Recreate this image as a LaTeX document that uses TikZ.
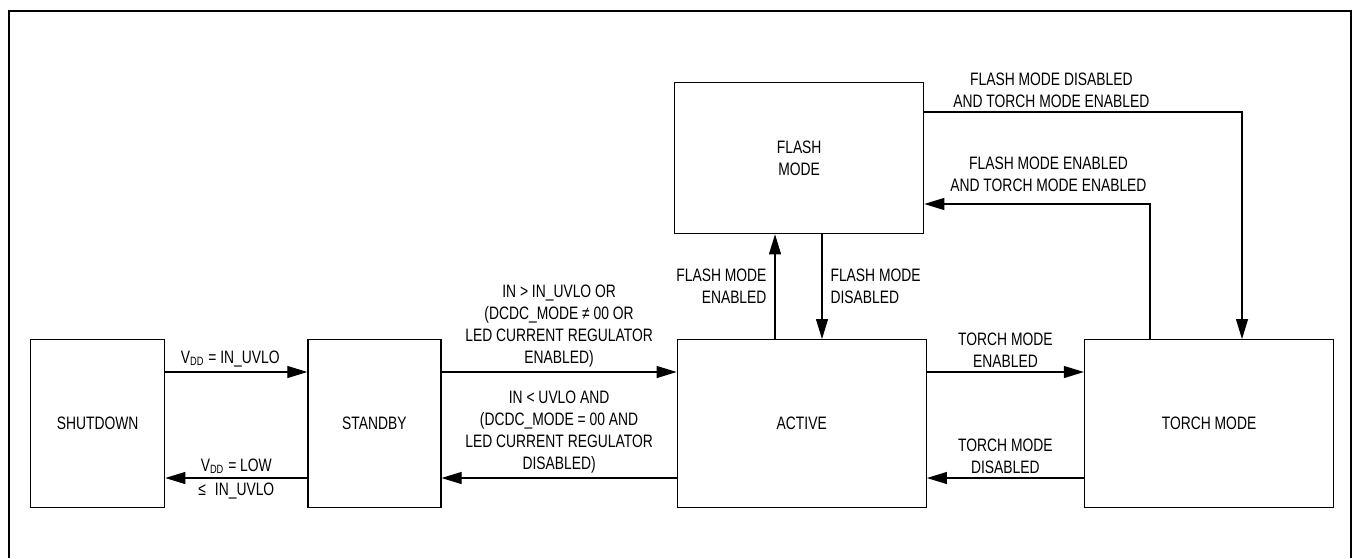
\documentclass[tikz,border=0pt]{standalone}
\usepackage{fontspec}
\setmainfont{Liberation Sans}[FakeStretch=0.77]
\usepackage{tikz}
\usetikzlibrary{positioning,arrows.meta}

\begin{document}
\begin{tikzpicture}[x=0.5pt, y=-0.5pt, every node/.style={font=\fontsize{9}{11}\selectfont, align=center, inner sep=2pt},
    state/.style={draw, line width=0.65pt, minimum width=124.5pt, minimum height=84pt},
    conn/.style={-{Triangle[length=10pt,width=6pt]}, line width=0.55pt}]
    \useasboundingbox (0,0) rectangle (1353,558);
    \draw[line width=1pt] (9,558) -- (9,11) -- (1351,11) -- (1351,558);
    \node[state, minimum width=67pt, anchor=north west] (shut) at (30,339) {SHUTDOWN};
    \node[state, minimum width=66.5pt, right=71pt of shut] (stby) {STANDBY};
    \node[state, right=117.5pt of stby] (act) {ACTIVE};
    \node[state, right=78.5pt of act] (torch) {TORCH MODE};
    \node[state, minimum height=75.5pt, anchor=north west] (flash) at (674,82) {FLASH\\MODE};
    \draw[conn] (shut.east |- 0,372) -- node[above, xshift=-3pt] {V\textsubscript{DD} = IN\_UVLO} (stby.west |- 0,372);
    \draw[conn] (stby.west |- 0,478) -- node[above] {V\textsubscript{DD} = LOW} node[below] {≤\enspace IN\_UVLO} (shut.east |- 0,478);
    \draw[conn] (stby.east |- 0,372) -- node[above] {IN > IN\_UVLO OR\\(DCDC\_MODE ≠ 00 OR\\LED CURRENT REGULATOR\\ENABLED)} (act.west |- 0,372);
    \draw[conn] (act.west |- 0,478) -- node[above] {IN < UVLO AND\\(DCDC\_MODE = 00 AND\\LED CURRENT REGULATOR\\DISABLED)} (stby.east |- 0,478);
    \draw[conn] (act.east |- 0,372) -- node[above] {TORCH MODE\\ENABLED} (torch.west |- 0,372);
    \draw[conn] (torch.west |- 0,478) -- node[above] {TORCH MODE\\DISABLED} (act.east |- 0,478);
    \draw[conn] (act.north -| 775,0) -- node[left, align=right, xshift=-2pt] {FLASH MODE\\ENABLED} (flash.south -| 775,0);
    \draw[conn] (flash.south -| 822,0) -- node[right, align=left, xshift=2pt] {FLASH MODE\\DISABLED} (act.north -| 822,0);
    \draw[conn] (flash.east |- 0,112) -| node[pos=0.2, above] {FLASH MODE DISABLED\\AND TORCH MODE ENABLED} (torch.north -| 1242,0);
    \draw[conn] (torch.north -| 1150,0) |- node[pos=0.725, above=4pt] {FLASH MODE ENABLED\\AND TORCH MODE ENABLED} (flash.east |- 0,204);
\end{tikzpicture}
\end{document}
